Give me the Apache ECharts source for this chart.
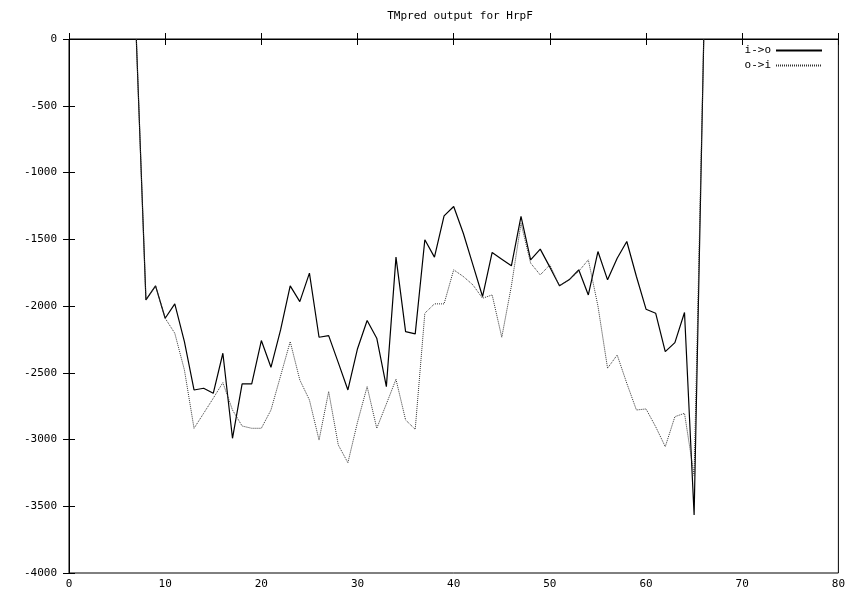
<!DOCTYPE html>
<html>
<head>
<meta charset="utf-8">
<script src="https://cdn.jsdelivr.net/npm/echarts@6/dist/echarts.min.js"></script>
<style>
  html, body { margin: 0; padding: 0; background: #fff; }
  #chart { width: 848px; height: 592px; }
</style>
</head>
<body>
<div id="chart"></div>
<script>
// sequence positions (residues)
const positions = [7, 8, 9, 10, 11, 12, 13, 14, 15, 16, 17, 18, 19, 20, 21, 22, 23, 24, 25, 26,
    27, 28, 29, 30, 31, 32, 33, 34, 35, 36, 37, 38, 39, 40, 41, 42, 43, 44, 45, 46,
    47, 48, 49, 50, 51, 52, 53, 54, 55, 56, 57, 58, 59, 60, 61, 62, 63, 64, 65, 66]

// i->o scores
const insideOut = [0, -1954, -1849, -2092, -1984, -2267, -2629, -2616, -2654, -2354,
    -2991, -2584, -2584, -2259, -2459, -2179, -1849, -1967, -1754, -2234,
    -2222, -2424, -2629, -2320, -2109, -2241, -2604, -1634, -2192, -2209,
    -1504, -1634, -1325, -1255, -1455, -1692, -1929, -1599, -1649, -1699,
    -1329, -1654, -1574, -1709, -1849, -1804, -1729, -1917, -1592, -1804,
    -1642, -1517, -1779, -2024, -2054, -2342, -2274, -2049, -3566, 0]

// o->i scores
const outsideIn = [0, -1954, -1849, -2092, -2204, -2479, -2916, -2804, -2691, -2574,
    -2779, -2899, -2916, -2916, -2779, -2524, -2267, -2554, -2704, -3004,
    -2641, -3041, -3174, -2870, -2604, -2916, -2734, -2549, -2854, -2924,
    -2054, -1984, -1984, -1729, -1779, -1842, -1942, -1917, -2234, -1850,
    -1380, -1679, -1767, -1692, -1849, -1804, -1740, -1654, -2000, -2466,
    -2367, -2579, -2779, -2771, -2904, -3054, -2829, -2804, -3270, 0]

const xTicks = {min: 0, max: 80, interval: 10}
const yTicks = {min: -4000, max: 0, interval: 500}

const font = 'DejaVu Sans Mono'

function pairs(xs, ys){
    return xs.map((x, i) => [x, ys[i]])
}

const chart = echarts.init(document.getElementById('chart'), null, {renderer: 'canvas'})

const tickStyle = {show: true, inside: true, length: 6, lineStyle: {color: '#000', width: 1}}

let option = {
    animation: false,
    backgroundColor: '#fff',
    title: {
        text: 'TMpred output for HrpF',
        left: 455,
        top: 6,
        textAlign: 'center',
        textStyle: {fontFamily: font, fontSize: 11, fontWeight: 'normal', color: '#000'}
    },
    legend: {
        orient: 'vertical',
        right: 20,
        top: 40,
        align: 'right',
        itemGap: 4,
        itemWidth: 46,
        itemHeight: 10,
        itemStyle: {opacity: 0},
        textStyle: {fontFamily: font, fontSize: 11, color: '#000'},
        data: ['i->o', 'o->i']
    },
    grid: {
        left: 69,
        right: 8,
        top: 39,
        bottom: 19,
        show: true,
        borderColor: '#000',
        borderWidth: 1
    },
    xAxis: [
        {
            type: 'value',
            position: 'bottom',
            min: xTicks.min, max: xTicks.max, interval: xTicks.interval,
            axisLine: {show: true, lineStyle: {color: '#000'}},
            axisTick: tickStyle,
            splitLine: {show: false},
            axisLabel: {fontFamily: font, fontSize: 11, color: '#000', margin: 6}
        },
        {
            type: 'value',
            position: 'top',
            min: xTicks.min, max: xTicks.max, interval: xTicks.interval,
            axisLine: {show: false},
            axisTick: tickStyle,
            splitLine: {show: false},
            axisLabel: {show: false}
        }
    ],
    yAxis: [
        {
            type: 'value',
            position: 'left',
            min: yTicks.min, max: yTicks.max, interval: yTicks.interval,
            axisLine: {show: true, lineStyle: {color: '#000'}},
            axisTick: tickStyle,
            splitLine: {show: false},
            axisLabel: {
                fontFamily: font, fontSize: 11, color: '#000', margin: 12,
                formatter: v => String(v)
            }
        },
        {
            type: 'value',
            position: 'right',
            min: yTicks.min, max: yTicks.max, interval: yTicks.interval,
            axisLine: {show: false},
            axisTick: tickStyle,
            splitLine: {show: false},
            axisLabel: {show: false}
        }
    ],
    series: [
        {
            name: 'i->o',
            type: 'line',
            xAxisIndex: 0,
            yAxisIndex: 0,
            symbol: 'none',
            clip: true,
            lineStyle: {color: '#000', width: 1.2},
            itemStyle: {color: '#000'},
            data: pairs(positions, insideOut)
        },
        {
            name: 'o->i',
            type: 'line',
            xAxisIndex: 0,
            yAxisIndex: 0,
            symbol: 'none',
            clip: true,
            lineStyle: {color: '#333', width: 1, type: [1, 1]},
            itemStyle: {color: '#333'},
            data: pairs(positions, outsideIn)
        }
    ]
}

chart.setOption(option)
</script>
</body>
</html>
